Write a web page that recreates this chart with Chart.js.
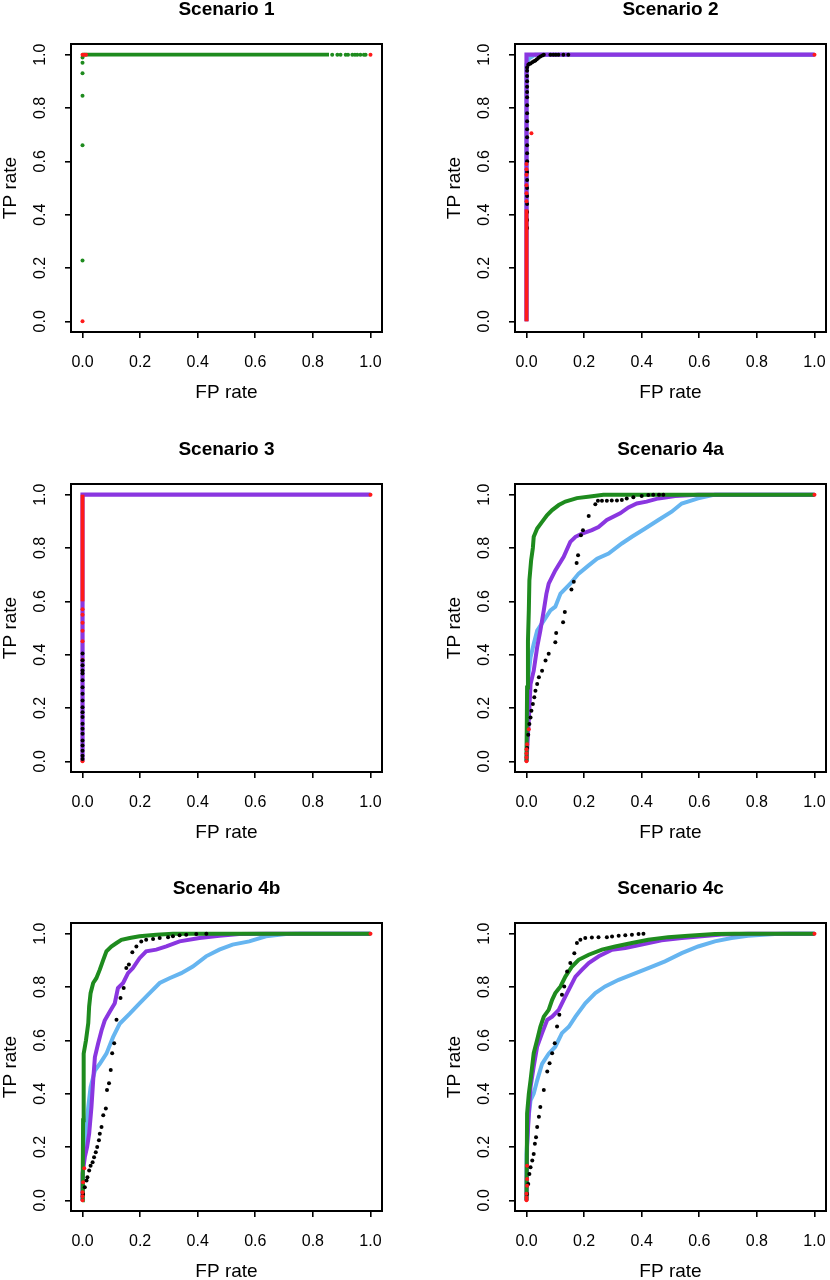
<!DOCTYPE html>
<html>
<head>
<meta charset="utf-8">
<script src="https://cdn.jsdelivr.net/npm/chart.js@4.4.0/dist/chart.umd.min.js"></script>
<style>
  html, body { margin: 0; padding: 0; background: #fff; }
  #wrap { position: relative; width: 830px; height: 1280px; overflow: hidden; background: #fff; }
  #wrap canvas { position: absolute; }
</style>
</head>
<body>
<div id="wrap">
  <canvas id="p1" width="415" height="440" style="left:-29px;top:0px"></canvas>
  <canvas id="p2" width="415" height="440" style="left:415px;top:0px"></canvas>
  <canvas id="p3" width="415" height="440" style="left:-29px;top:440px"></canvas>
  <canvas id="p4a" width="415" height="440" style="left:415px;top:440px"></canvas>
  <canvas id="p4b" width="415" height="440" style="left:-29px;top:879px"></canvas>
  <canvas id="p4c" width="415" height="440" style="left:415px;top:879px"></canvas>
</div>
<script>
// tick labels for both axes
const tickValues = [0, 0.2, 0.4, 0.6, 0.8, 1.0];

// Scenario 1 : [FP rate, TP rate]
const s1Green = [[0,0.228],[0,0.66],[0,0.846],[0,0.93],[0,0.97],[0,0.989],[0.867,1],[0.885,1],[0.896,1],[0.914,1],[0.922,1],[0.937,1],[0.946,1],[0.954,1],[0.965,1],[0.977,1],[0.983,1]];
const s1GreenRun = [[0,1],[0.856,1]];
const s1Red = [[0,0],[0,1],[0.006,1],[0.012,1],[1,1]];

// Scenario 2
const s2Blue = [[0,0],[0,0.965],[0.008,0.985],[0.03,1],[1,1]];
const s2Purple = [[0,0],[0,1],[1,1]];
const s2Black = [[0.002,0.35],[0.002,0.38],[0.002,0.41],[0.002,0.44],[0.002,0.47],[0.002,0.5],[0.002,0.53],[0.002,0.56],[0.002,0.6],[0.002,0.63],[0.002,0.66],[0.002,0.69],[0.002,0.72],[0.002,0.75],[0.002,0.78],[0.002,0.81],[0.002,0.84],[0.002,0.86],[0.002,0.88],[0.002,0.9],[0.002,0.92],[0.002,0.94],[0.002,0.952],[0.006,0.962],[0.01,0.966],[0.014,0.967],[0.02,0.972],[0.026,0.975],[0.031,0.978],[0.036,0.983],[0.042,0.988],[0.048,0.993],[0.055,0.997],[0.06,1],[0.083,1],[0.093,1],[0.102,1],[0.111,1],[0.128,1],[0.145,1]];
const s2RedRun = [[0,0],[0,0.42]];
const s2Red = [[0,0.45],[0,0.48],[0,0.51],[0,0.55],[0,0.57],[0,0.59],[0.017,0.705],[1,1]];

// Scenario 3
const s3Purple = [[0,0],[0,1],[1,1]];
const s3Black = [[0,0.009],[0,0.021],[0,0.04],[0,0.059],[0,0.078],[0,0.103],[0,0.122],[0,0.141],[0,0.166],[0,0.184],[0,0.203],[0,0.228],[0,0.253],[0,0.278],[0,0.304],[0,0.329],[0,0.341],[0,0.36],[0,0.379],[0,0.404]];
const s3RedRun = [[0,0.6],[0,1]];
const s3Red = [[0,0],[0,0.38],[0,0.45],[0,0.49],[0,0.52],[0,0.55],[0,0.57],[1,1]];

// Scenario 4a
const s4aGreen = [[0,0],[0.002,0.277],[0.005,0.45],[0.008,0.566],[0.01,0.679],[0.016,0.754],[0.022,0.8],[0.025,0.842],[0.037,0.873],[0.054,0.898],[0.071,0.923],[0.089,0.942],[0.112,0.961],[0.135,0.974],[0.175,0.987],[0.221,0.993],[0.267,1],[1,1]];
const s4aPurple = [[0,0],[0.005,0.1],[0.01,0.2],[0.014,0.29],[0.025,0.34],[0.037,0.428],[0.048,0.49],[0.06,0.566],[0.069,0.628],[0.077,0.666],[0.1,0.716],[0.129,0.767],[0.152,0.823],[0.17,0.842],[0.193,0.854],[0.227,0.867],[0.25,0.879],[0.279,0.905],[0.325,0.93],[0.354,0.952],[0.383,0.967],[0.417,0.974],[0.458,0.986],[0.516,0.995],[0.596,1],[1,1]];
const s4aBlue = [[0,0],[0.003,0.2],[0.006,0.315],[0.014,0.39],[0.025,0.44],[0.037,0.49],[0.06,0.528],[0.083,0.566],[0.1,0.58],[0.118,0.629],[0.152,0.666],[0.181,0.704],[0.216,0.735],[0.245,0.76],[0.285,0.779],[0.331,0.817],[0.366,0.842],[0.412,0.873],[0.458,0.905],[0.504,0.936],[0.539,0.967],[0.596,0.986],[0.654,1],[1,1]];
const s4aBlack = [[0.002,0.05],[0.006,0.1],[0.01,0.14],[0.014,0.164],[0.017,0.19],[0.022,0.215],[0.027,0.24],[0.031,0.265],[0.037,0.29],[0.043,0.315],[0.054,0.34],[0.066,0.378],[0.077,0.403],[0.1,0.447],[0.103,0.481],[0.127,0.522],[0.133,0.56],[0.156,0.644],[0.164,0.673],[0.174,0.744],[0.179,0.773],[0.189,0.848],[0.196,0.867],[0.216,0.92],[0.239,0.964],[0.248,0.977],[0.262,0.977],[0.279,0.977],[0.296,0.978],[0.314,0.978],[0.331,0.98],[0.348,0.986],[0.371,0.99],[0.4,0.995],[0.423,0.999],[0.44,1],[0.46,1],[0.475,1]];
const s4aRed = [[0,0],[0,0.015],[0,0.03],[0,0.045],[0.002,0.064],[0.008,0.12],[1,1]];

// Scenario 4b
const s4bGreen = [[0,0],[0.001,0.12],[0.002,0.3],[0.003,0.45],[0.005,0.55],[0.012,0.6],[0.02,0.665],[0.023,0.727],[0.028,0.777],[0.037,0.815],[0.048,0.833],[0.06,0.865],[0.072,0.902],[0.083,0.934],[0.1,0.952],[0.118,0.965],[0.135,0.977],[0.164,0.984],[0.198,0.99],[0.256,0.996],[0.314,1],[1,1]];
const s4bPurple = [[0,0],[0,0.1],[0.008,0.162],[0.016,0.2],[0.023,0.25],[0.031,0.35],[0.037,0.45],[0.043,0.537],[0.054,0.587],[0.066,0.637],[0.077,0.674],[0.095,0.708],[0.112,0.739],[0.123,0.796],[0.141,0.815],[0.158,0.852],[0.175,0.871],[0.198,0.908],[0.221,0.934],[0.256,0.94],[0.291,0.952],[0.337,0.971],[0.406,0.984],[0.475,0.992],[0.544,0.999],[0.637,1],[1,1]];
const s4bBlue = [[0,0],[0.002,0.137],[0.012,0.262],[0.02,0.35],[0.028,0.425],[0.043,0.487],[0.06,0.512],[0.083,0.55],[0.106,0.612],[0.129,0.662],[0.164,0.7],[0.198,0.739],[0.233,0.777],[0.268,0.815],[0.302,0.833],[0.343,0.852],[0.383,0.877],[0.429,0.915],[0.475,0.94],[0.521,0.959],[0.579,0.971],[0.637,0.99],[0.706,0.999],[0.752,1],[1,1]];
const s4bBlack = [[0.002,0.024],[0.008,0.049],[0.014,0.074],[0.017,0.087],[0.023,0.112],[0.028,0.13],[0.035,0.143],[0.04,0.162],[0.046,0.18],[0.051,0.2],[0.057,0.225],[0.06,0.25],[0.066,0.275],[0.072,0.319],[0.081,0.344],[0.085,0.414],[0.092,0.439],[0.098,0.489],[0.103,0.552],[0.11,0.589],[0.118,0.677],[0.132,0.759],[0.143,0.796],[0.152,0.871],[0.161,0.884],[0.173,0.93],[0.187,0.952],[0.204,0.971],[0.221,0.977],[0.245,0.98],[0.268,0.984],[0.297,0.987],[0.314,0.99],[0.337,0.994],[0.36,0.996],[0.395,0.999],[0.43,1]];
const s4bRed = [[0,0],[0,0.015],[0,0.03],[0.002,0.068],[0.006,0.12],[1,1]];

// Scenario 4c
const s4cGreen = [[0,0],[0.002,0.325],[0.008,0.4],[0.014,0.45],[0.025,0.552],[0.037,0.602],[0.048,0.651],[0.06,0.689],[0.077,0.714],[0.089,0.752],[0.1,0.777],[0.118,0.802],[0.135,0.839],[0.158,0.877],[0.181,0.902],[0.216,0.921],[0.262,0.94],[0.308,0.952],[0.366,0.965],[0.423,0.977],[0.492,0.987],[0.562,0.992],[0.654,0.999],[0.723,1],[1,1]];
const s4cPurple = [[0,0],[0.002,0.2],[0.008,0.325],[0.014,0.425],[0.025,0.502],[0.037,0.577],[0.054,0.627],[0.072,0.677],[0.089,0.689],[0.112,0.714],[0.129,0.752],[0.147,0.79],[0.17,0.839],[0.193,0.865],[0.216,0.89],[0.251,0.915],[0.297,0.94],[0.343,0.946],[0.4,0.959],[0.469,0.975],[0.539,0.984],[0.608,0.99],[0.677,0.997],[0.769,1],[1,1]];
const s4cBlue = [[0,0],[0,0.174],[0.006,0.3],[0.014,0.375],[0.025,0.4],[0.037,0.45],[0.054,0.512],[0.077,0.55],[0.1,0.576],[0.123,0.627],[0.147,0.651],[0.17,0.689],[0.204,0.739],[0.239,0.777],[0.273,0.802],[0.32,0.827],[0.366,0.846],[0.423,0.871],[0.481,0.896],[0.539,0.927],[0.596,0.952],[0.654,0.971],[0.712,0.984],[0.769,0.992],[0.862,0.999],[0.908,1],[1,1]];
const s4cBlack = [[0.002,0.024],[0.006,0.061],[0.01,0.099],[0.014,0.124],[0.02,0.149],[0.025,0.174],[0.029,0.212],[0.033,0.237],[0.037,0.275],[0.043,0.313],[0.048,0.35],[0.06,0.414],[0.072,0.483],[0.08,0.514],[0.089,0.552],[0.098,0.589],[0.106,0.652],[0.114,0.696],[0.123,0.771],[0.131,0.802],[0.141,0.858],[0.152,0.89],[0.166,0.927],[0.175,0.965],[0.187,0.977],[0.204,0.984],[0.227,0.986],[0.25,0.987],[0.279,0.987],[0.297,0.989],[0.32,0.992],[0.343,0.994],[0.366,0.996],[0.389,0.999],[0.406,1]];
const s4cRed = [[0,0],[0,0.01],[0,0.025],[0.002,0.055],[0.002,0.08],[0.002,0.13],[1,1]];

const FONT = '"Liberation Sans", Arial, Helvetica, sans-serif';
const GREEN = '#1E8B1E', PURPLE = '#8A36E0', BLUE = '#66B5F0', RED = '#FF1A1A', BLACK = '#000000';

// turns [x,y] pairs into chart points
function toPoints(pairs) {
  return pairs.map(p => ({ x: p[0], y: p[1] }));
}

function lineSet(pairs, color, width) {
  return {
    data: toPoints(pairs), showLine: true, borderColor: color, borderWidth: width,
    pointRadius: 0, fill: false, tension: 0, xAxisID: 'x', yAxisID: 'y'
  };
}

function dotSet(pairs, color, r) {
  return {
    data: toPoints(pairs), showLine: false, pointBackgroundColor: color,
    pointBorderWidth: 0, pointRadius: r, xAxisID: 'x', yAxisID: 'y'
  };
}

// frame round the plotting region, like R's box()
const boxPlugin = {
  id: 'plotBox',
  afterDatasetsDraw(chart) {
    const { ctx, chartArea: a } = chart;
    ctx.save();
    ctx.strokeStyle = '#000';
    ctx.lineWidth = 2;
    ctx.strokeRect(a.left, a.top, a.right - a.left, a.bottom - a.top);
    ctx.restore();
  }
};

function setTicks(axis) {
  axis.ticks = tickValues.map(v => ({ value: v }));
}

// fixed axis sizes, and no extra room for the end labels
function fixSize(axis, w, h) {
  if (w) axis.width = w;
  if (h) axis.height = h;
  axis.paddingLeft = 0;
  axis.paddingRight = 0;
  axis.paddingTop = 0;
  axis.paddingBottom = 0;
}

function makePanel(id, title, datasets) {
  const canvas = document.getElementById(id);
  return new Chart(canvas.getContext('2d'), {
    type: 'scatter',
    data: { datasets: datasets },
    options: {
      responsive: false,
      animation: false,
      events: [],
      layout: { padding: { left: 0, right: 4, top: 0, bottom: 0 } },
      plugins: { legend: { display: false }, tooltip: { enabled: false } },
      scales: {
        x: {
          type: 'linear', position: 'bottom', min: -0.04, max: 1.04,
          afterBuildTicks: setTicks,
          afterFit: axis => fixSize(axis, 0, 108),
          grid: { display: true, drawOnChartArea: false, drawTicks: true, tickLength: 6, color: '#000', lineWidth: 1.6 },
          border: { display: false },
          ticks: { color: '#000', font: { family: FONT, size: 16 }, padding: 15, autoSkip: false, maxRotation: 0,
                   callback: v => v.toFixed(1) },
          title: { display: true, text: 'FP rate', color: '#000', font: { family: FONT, size: 19 },
                   padding: { top: 0, bottom: 36 } }
        },
        y: {
          type: 'linear', position: 'left', min: -0.04, max: 1.04,
          afterBuildTicks: setTicks,
          afterFit: axis => fixSize(axis, 100, 0),
          grid: { display: true, drawOnChartArea: false, drawTicks: true, tickLength: 6, color: '#000', lineWidth: 1.6 },
          border: { display: false },
          ticks: { color: '#000', font: { family: FONT, size: 16 }, padding: 13, minRotation: 90, maxRotation: 90,
                   crossAlign: 'center', autoSkip: false, callback: v => v.toFixed(1) },
          title: { display: true, text: 'TP rate', color: '#000', font: { family: FONT, size: 19 },
                   padding: { top: 28, bottom: 0 } }
        },
        // top axis only carries the panel title so it sits centred over the box
        top: {
          type: 'linear', position: 'top', min: 0, max: 1,
          afterFit: axis => fixSize(axis, 0, 44),
          grid: { display: false }, border: { display: false }, ticks: { display: false },
          title: { display: true, text: title, color: '#000',
                   font: { family: FONT, size: 19, weight: 'bold', lineHeight: 1.05 },
                   padding: { top: 0, bottom: 0 } }
        }
      }
    },
    plugins: [boxPlugin]
  });
}

// first dataset is painted on top
makePanel('p1', 'Scenario 1', [
  dotSet(s1Red, RED, 2),
  dotSet(s1Green, GREEN, 2),
  lineSet(s1GreenRun, GREEN, 3.6)
]);

makePanel('p2', 'Scenario 2', [
  dotSet(s2Red, RED, 2),
  lineSet(s2RedRun, RED, 3.8),
  dotSet(s2Black, BLACK, 2),
  lineSet(s2Purple, PURPLE, 4.2),
  lineSet(s2Blue, BLUE, 4)
]);

makePanel('p3', 'Scenario 3', [
  dotSet(s3Black, BLACK, 2),
  dotSet(s3Red, RED, 2),
  lineSet(s3RedRun, RED, 3.8),
  lineSet(s3Purple, PURPLE, 4.2)
]);

makePanel('p4a', 'Scenario 4a', [
  dotSet(s4aRed, RED, 2),
  dotSet(s4aBlack, BLACK, 2),
  lineSet(s4aGreen, GREEN, 4),
  lineSet(s4aPurple, PURPLE, 4),
  lineSet(s4aBlue, BLUE, 4)
]);

makePanel('p4b', 'Scenario 4b', [
  dotSet(s4bRed, RED, 2),
  dotSet(s4bBlack, BLACK, 2),
  lineSet(s4bGreen, GREEN, 4),
  lineSet(s4bPurple, PURPLE, 4),
  lineSet(s4bBlue, BLUE, 4)
]);

makePanel('p4c', 'Scenario 4c', [
  dotSet(s4cRed, RED, 2),
  dotSet(s4cBlack, BLACK, 2),
  lineSet(s4cGreen, GREEN, 4),
  lineSet(s4cPurple, PURPLE, 4),
  lineSet(s4cBlue, BLUE, 4)
]);
</script>
</body>
</html>
